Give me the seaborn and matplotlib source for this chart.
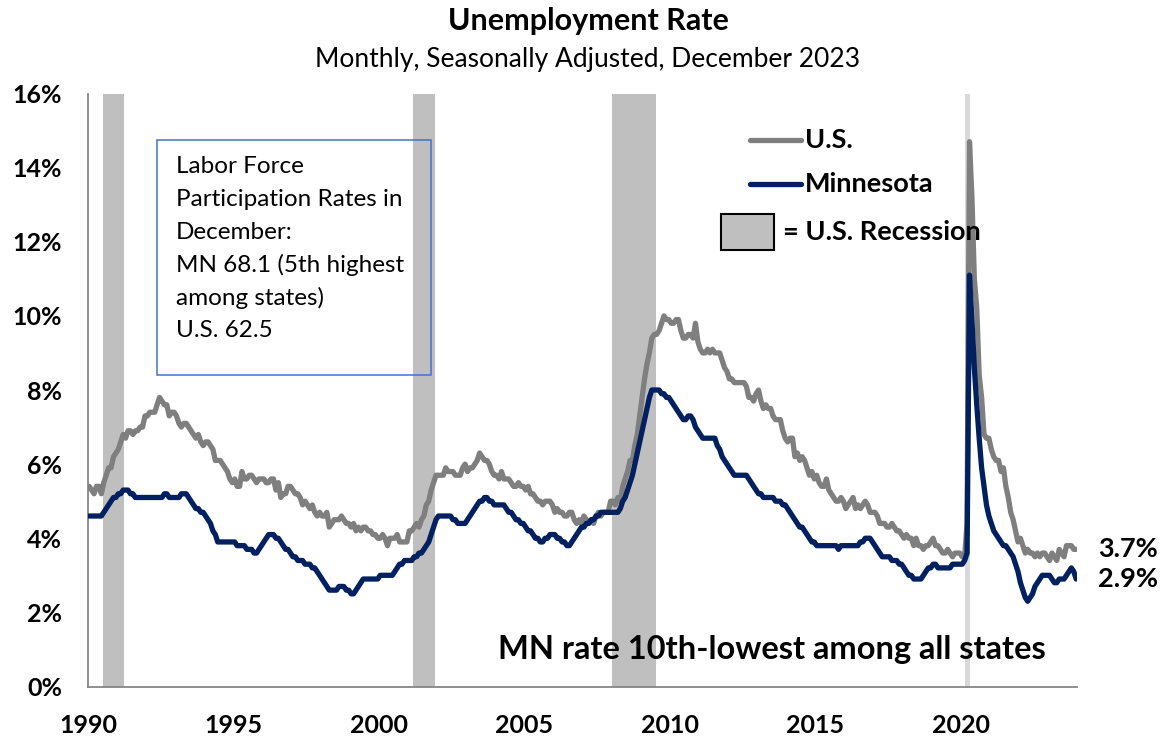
import numpy as np
import pandas as pd
import seaborn as sns
import matplotlib.pyplot as plt
from matplotlib.lines import Line2D
from matplotlib.patches import Rectangle

# monthly unemployment rate (%), Jan 1990 - Dec 2023, seasonally adjusted
us_rate = [
    5.4, 5.3, 5.2, 5.4, 5.4, 5.2, 5.5, 5.7, 5.9, 5.9, 6.2, 6.3,   # 1990
    6.4, 6.6, 6.8, 6.7, 6.9, 6.9, 6.8, 6.9, 6.9, 7.0, 7.0, 7.3,   # 1991
    7.3, 7.4, 7.4, 7.4, 7.6, 7.8, 7.7, 7.6, 7.6, 7.3, 7.4, 7.4,   # 1992
    7.3, 7.1, 7.0, 7.1, 7.1, 7.0, 6.9, 6.8, 6.7, 6.8, 6.6, 6.5,   # 1993
    6.6, 6.6, 6.5, 6.4, 6.1, 6.1, 6.1, 6.0, 5.9, 5.8, 5.6, 5.5,   # 1994
    5.6, 5.4, 5.4, 5.8, 5.6, 5.6, 5.7, 5.7, 5.6, 5.5, 5.6, 5.6,   # 1995
    5.6, 5.5, 5.5, 5.6, 5.6, 5.3, 5.5, 5.1, 5.2, 5.2, 5.4, 5.4,   # 1996
    5.3, 5.2, 5.2, 5.1, 4.9, 5.0, 4.9, 4.8, 4.9, 4.7, 4.6, 4.7,   # 1997
    4.6, 4.6, 4.7, 4.3, 4.4, 4.5, 4.5, 4.5, 4.6, 4.5, 4.4, 4.4,   # 1998
    4.3, 4.4, 4.2, 4.3, 4.2, 4.3, 4.3, 4.2, 4.2, 4.1, 4.1, 4.0,   # 1999
    4.0, 4.1, 4.0, 3.8, 4.0, 4.0, 4.0, 4.1, 3.9, 3.9, 3.9, 3.9,   # 2000
    4.2, 4.2, 4.3, 4.4, 4.3, 4.5, 4.6, 4.9, 5.0, 5.3, 5.5, 5.7,   # 2001
    5.7, 5.7, 5.7, 5.9, 5.8, 5.8, 5.8, 5.7, 5.7, 5.7, 5.9, 6.0,   # 2002
    5.8, 5.9, 5.9, 6.0, 6.1, 6.3, 6.2, 6.1, 6.1, 6.0, 5.8, 5.7,   # 2003
    5.7, 5.6, 5.8, 5.6, 5.6, 5.6, 5.5, 5.4, 5.4, 5.5, 5.4, 5.4,   # 2004
    5.3, 5.4, 5.2, 5.2, 5.1, 5.0, 5.0, 4.9, 5.0, 5.0, 5.0, 4.9,   # 2005
    4.7, 4.8, 4.7, 4.7, 4.6, 4.6, 4.7, 4.7, 4.5, 4.4, 4.5, 4.4,   # 2006
    4.6, 4.5, 4.4, 4.5, 4.4, 4.6, 4.7, 4.6, 4.7, 4.7, 4.7, 5.0,   # 2007
    5.0, 4.9, 5.1, 5.0, 5.4, 5.6, 5.8, 6.1, 6.1, 6.5, 6.8, 7.3,   # 2008
    7.8, 8.3, 8.7, 9.0, 9.4, 9.5, 9.5, 9.6, 9.8, 10.0, 9.9, 9.9,  # 2009
    9.8, 9.8, 9.9, 9.9, 9.6, 9.4, 9.4, 9.5, 9.5, 9.4, 9.8, 9.3,   # 2010
    9.1, 9.0, 9.0, 9.1, 9.0, 9.1, 9.0, 9.0, 9.0, 8.8, 8.6, 8.5,   # 2011
    8.3, 8.3, 8.2, 8.2, 8.2, 8.2, 8.2, 8.1, 7.8, 7.8, 7.7, 7.9,   # 2012
    8.0, 7.7, 7.5, 7.6, 7.5, 7.5, 7.3, 7.2, 7.2, 7.2, 6.9, 6.7,   # 2013
    6.6, 6.7, 6.7, 6.2, 6.3, 6.1, 6.2, 6.1, 5.9, 5.7, 5.8, 5.6,   # 2014
    5.7, 5.5, 5.4, 5.4, 5.6, 5.3, 5.2, 5.1, 5.0, 5.0, 5.1, 5.0,   # 2015
    4.8, 4.9, 5.0, 5.1, 4.8, 4.9, 4.8, 4.9, 5.0, 4.9, 4.7, 4.7,   # 2016
    4.7, 4.6, 4.4, 4.4, 4.4, 4.3, 4.3, 4.4, 4.3, 4.2, 4.2, 4.1,   # 2017
    4.0, 4.1, 4.0, 4.0, 3.8, 4.0, 3.8, 3.8, 3.7, 3.8, 3.8, 3.9,   # 2018
    4.0, 3.8, 3.8, 3.7, 3.6, 3.6, 3.7, 3.6, 3.5, 3.6, 3.6, 3.6,   # 2019
    3.5, 3.5, 4.4, 14.7, 13.2, 11.0, 10.2, 8.4, 7.8, 6.8, 6.7, 6.7,  # 2020
    6.4, 6.2, 6.1, 6.1, 5.8, 5.9, 5.4, 5.1, 4.7, 4.5, 4.2, 3.9,   # 2021
    4.0, 3.8, 3.6, 3.7, 3.6, 3.6, 3.5, 3.6, 3.5, 3.6, 3.6, 3.5,   # 2022
    3.4, 3.6, 3.5, 3.4, 3.7, 3.6, 3.5, 3.8, 3.8, 3.8, 3.7, 3.7,   # 2023
]

mn_rate = [
    4.6, 4.6, 4.6, 4.6, 4.6, 4.6, 4.7, 4.8, 4.9, 5.0, 5.1, 5.1,   # 1990
    5.2, 5.2, 5.3, 5.3, 5.3, 5.2, 5.2, 5.1, 5.1, 5.1, 5.1, 5.1,   # 1991
    5.1, 5.1, 5.1, 5.1, 5.1, 5.1, 5.1, 5.2, 5.2, 5.1, 5.1, 5.1,   # 1992
    5.1, 5.1, 5.2, 5.2, 5.2, 5.1, 5.0, 4.9, 4.8, 4.8, 4.7, 4.7,   # 1993
    4.6, 4.5, 4.4, 4.2, 4.1, 3.9, 3.9, 3.9, 3.9, 3.9, 3.9, 3.9,   # 1994
    3.9, 3.8, 3.8, 3.8, 3.8, 3.7, 3.7, 3.7, 3.6, 3.6, 3.7, 3.8,   # 1995
    3.9, 4.0, 4.1, 4.1, 4.1, 4.0, 4.0, 3.9, 3.8, 3.7, 3.7, 3.6,   # 1996
    3.5, 3.5, 3.4, 3.4, 3.4, 3.3, 3.3, 3.3, 3.2, 3.2, 3.1, 3.0,   # 1997
    2.9, 2.8, 2.7, 2.6, 2.6, 2.6, 2.6, 2.7, 2.7, 2.7, 2.6, 2.6,   # 1998
    2.5, 2.5, 2.6, 2.7, 2.8, 2.9, 2.9, 2.9, 2.9, 2.9, 2.9, 2.9,   # 1999
    3.0, 3.0, 3.0, 3.0, 3.0, 3.0, 3.1, 3.2, 3.3, 3.3, 3.4, 3.4,   # 2000
    3.4, 3.4, 3.5, 3.5, 3.6, 3.6, 3.7, 3.8, 3.9, 4.1, 4.3, 4.5,   # 2001
    4.6, 4.6, 4.6, 4.6, 4.6, 4.6, 4.5, 4.5, 4.4, 4.4, 4.4, 4.4,   # 2002
    4.5, 4.6, 4.7, 4.8, 4.9, 5.0, 5.0, 5.1, 5.1, 5.0, 5.0, 4.9,   # 2003
    4.9, 4.9, 4.9, 4.9, 4.8, 4.7, 4.7, 4.6, 4.5, 4.5, 4.4, 4.4,   # 2004
    4.3, 4.2, 4.2, 4.1, 4.0, 4.0, 3.9, 3.9, 4.0, 4.0, 4.1, 4.1,   # 2005
    4.1, 4.0, 4.0, 3.9, 3.9, 3.8, 3.8, 3.9, 4.0, 4.1, 4.2, 4.3,   # 2006
    4.3, 4.4, 4.4, 4.5, 4.5, 4.6, 4.6, 4.7, 4.7, 4.7, 4.7, 4.7,   # 2007
    4.7, 4.7, 4.7, 4.8, 5.0, 5.1, 5.3, 5.5, 5.7, 6.0, 6.3, 6.6,   # 2008
    6.9, 7.2, 7.5, 7.8, 8.0, 8.0, 8.0, 8.0, 7.9, 7.9, 7.8, 7.8,   # 2009
    7.7, 7.6, 7.5, 7.4, 7.3, 7.2, 7.2, 7.3, 7.3, 7.2, 7.0, 6.9,   # 2010
    6.8, 6.7, 6.7, 6.7, 6.7, 6.7, 6.7, 6.5, 6.4, 6.2, 6.1, 6.0,   # 2011
    5.9, 5.8, 5.7, 5.7, 5.7, 5.7, 5.7, 5.7, 5.6, 5.5, 5.4, 5.3,   # 2012
    5.2, 5.2, 5.1, 5.1, 5.1, 5.1, 5.1, 5.0, 5.0, 5.0, 4.9, 4.9,   # 2013
    4.8, 4.7, 4.6, 4.5, 4.4, 4.3, 4.3, 4.2, 4.1, 4.0, 3.9, 3.9,   # 2014
    3.8, 3.8, 3.8, 3.8, 3.8, 3.8, 3.8, 3.8, 3.8, 3.7, 3.8, 3.8,   # 2015
    3.8, 3.8, 3.8, 3.8, 3.8, 3.8, 3.9, 3.9, 4.0, 4.0, 4.0, 3.9,   # 2016
    3.8, 3.7, 3.6, 3.5, 3.5, 3.5, 3.5, 3.4, 3.4, 3.4, 3.3, 3.3,   # 2017
    3.2, 3.1, 3.0, 3.0, 2.9, 2.9, 2.9, 2.9, 3.0, 3.1, 3.2, 3.2,   # 2018
    3.3, 3.3, 3.2, 3.2, 3.2, 3.2, 3.2, 3.2, 3.3, 3.3, 3.3, 3.3,   # 2019
    3.3, 3.4, 3.6, 11.1, 9.9, 8.6, 7.6, 6.7, 5.9, 5.4, 4.9, 4.6,  # 2020
    4.4, 4.2, 4.1, 4.0, 3.9, 3.8, 3.8, 3.7, 3.6, 3.5, 3.3, 3.1,   # 2021
    2.8, 2.6, 2.4, 2.3, 2.4, 2.5, 2.7, 2.8, 2.9, 3.0, 3.0, 3.0,   # 2022
    3.0, 2.9, 2.8, 2.8, 2.9, 2.9, 2.9, 3.0, 3.1, 3.2, 3.1, 2.9,   # 2023
]

# U.S. recessions (decimal years)
rec_start = [1990.5, 2001.17, 2008.0, 2020.14]
rec_end = [1991.24, 2001.92, 2009.52, 2020.31]

box_lines = ['Labor Force', 'Participation Rates in', 'December:',
             'MN 68.1 (5th highest', 'among states)', 'U.S. 62.5']

GRAY = '#7f7f7f'
NAVY = '#002060'
W, H = 1166, 738

sns.set_theme(style='white')
plt.rcParams['font.family'] = ['Lato', 'DejaVu Sans']
plt.rcParams['text.color'] = 'black'

n = len(us_rate)
t = 1990 + (np.arange(n) + 0.5) / 12
df = pd.DataFrame({
    'date': np.concatenate([t, t]),
    'rate': us_rate + mn_rate,
    'series': ['U.S.'] * n + ['Minnesota'] * n,
})

fig = plt.figure(figsize=(W / 100, H / 100), dpi=100)
ax = fig.add_axes([88 / W, 1 - 686.5 / H, 989.4 / W, 593 / H])


def px(x, y):
    return x / W, 1 - y / H


# recession shading
for s, e in zip(rec_start, rec_end):
    c = '#d9d9d9' if s > 2015 else '#bfbfbf'
    ax.axvspan(s, e, color=c, lw=0, zorder=0)

sns.lineplot(data=df, x='date', y='rate', hue='series', hue_order=['U.S.', 'Minnesota'],
             palette=[GRAY, NAVY], linewidth=3.8, legend=False, ax=ax, zorder=3)
for ln in ax.get_lines():
    ln.set_solid_capstyle('round')
    ln.set_solid_joinstyle('round')

ax.set_xlim(1990, 2024)
ax.set_ylim(0, 16)
ax.set_xlabel('')
ax.set_ylabel('')
ax.set_xticks(range(1990, 2021, 5))
ax.set_xticks(range(1990, 2025), minor=True)
ax.set_yticks(range(0, 17, 2))
ax.set_yticklabels([f'{v}%' for v in range(0, 17, 2)])
for s in ['top', 'right']:
    ax.spines[s].set_visible(False)
for s in ['left', 'bottom']:
    ax.spines[s].set_color('#868686')
    ax.spines[s].set_linewidth(1.3)
ax.tick_params(axis='both', which='both', direction='out', length=6.5, width=1.3,
               color='#868686')
ax.tick_params(axis='x', which='major', pad=13, labelsize=18)
ax.tick_params(axis='y', pad=12, labelsize=18)
for lab in ax.get_xticklabels() + ax.get_yticklabels():
    lab.set_fontweight('bold')
    lab.set_color('black')

# end labels
ax.text(t[-1] + 0.75, us_rate[-1], f'{us_rate[-1]:.1f}%', fontsize=19.5, fontweight='bold',
        va='center', ha='left', clip_on=False)
ax.text(t[-1] + 0.75, mn_rate[-1], f'{mn_rate[-1]:.1f}%', fontsize=19.5, fontweight='bold',
        va='center', ha='left', clip_on=False)

# titles
fig.text(*px(588, 21), 'Unemployment Rate', fontsize=22, fontweight='bold',
         ha='center', va='center')
fig.text(*px(588, 60), 'Monthly, Seasonally Adjusted, December 2023', fontsize=19,
         ha='center', va='center')

# info box
fig.add_artist(Rectangle(px(157, 375), 274 / W, 235 / H, transform=fig.transFigure,
                         fill=False, ec='#4472c4', lw=1.1, zorder=5))
for i, line in enumerate(box_lines):
    fig.text(*px(176, 166.7 + i * 32.8), line, fontsize=17.5, ha='left', va='center')

# legend
fig.add_artist(Line2D([750 / W, 801 / W], [1 - 139.5 / H] * 2, color=GRAY, lw=3.8,
                      solid_capstyle='round'))
fig.add_artist(Line2D([750 / W, 801 / W], [1 - 184 / H] * 2, color=NAVY, lw=3.8,
                      solid_capstyle='round'))
fig.add_artist(Rectangle(px(721, 250), 53 / W, 36 / H, transform=fig.transFigure,
                         fc='#bfbfbf', ec='black', lw=1.5))
fig.text(*px(805, 139.5), 'U.S.', fontsize=19.5, fontweight='bold', va='center')
fig.text(*px(805, 184), 'Minnesota', fontsize=19.5, fontweight='bold', va='center')
fig.text(*px(783, 232), '= U.S. Recession', fontsize=19.5, fontweight='bold', va='center')

fig.text(*px(772, 650), 'MN rate 10th-lowest among all states', fontsize=23.5,
         fontweight='bold', ha='center', va='center')

fig.savefig('out.png', dpi=100)
